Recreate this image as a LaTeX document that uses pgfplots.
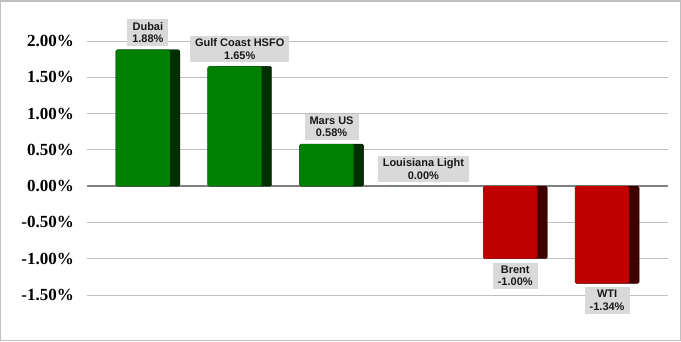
\documentclass[border=0pt]{standalone}
\usepackage{pgfplots}
\pgfplotsset{compat=1.18}
\usepackage{fontspec}
\setmainfont{Liberation Serif}
\newfontfamily\labfont{Liberation Sans}
\definecolor{gface}{HTML}{008000}
\definecolor{gside}{HTML}{002E00}
\definecolor{rface}{HTML}{C00000}
\definecolor{rside}{HTML}{400000}
\definecolor{gridc}{HTML}{BFBFBF}
\definecolor{zeroc}{HTML}{808080}
\definecolor{lblbg}{HTML}{D9D9D9}
\definecolor{borderc}{HTML}{BFBFBF}
\begin{document}
\begin{tikzpicture}
\begin{axis}[
  scale only axis, width=581pt, height=254pt,
  xmin=-0.663, xmax=5.663, ymin=-1.5, ymax=2.0,
  clip=false,
  axis line style={draw=none},
  xtick=\empty,
  ytick={-1.5,-1,-0.5,0,0.5,1,1.5,2},
  yticklabels={-1.50\%,-1.00\%,-0.50\%,0.00\%,0.50\%,1.00\%,1.50\%,2.00\%},
  ymajorgrids, grid style={gridc, line width=1pt},
  ytick style={draw=none},
  yticklabel style={font=\bfseries\fontsize{17}{20}\selectfont, inner sep=0pt, anchor=east, xshift=-13pt},
  every node near coord/.append style={font=\labfont\bfseries\fontsize{11}{12.5}\selectfont,
     align=center, fill=lblbg, text=black!90, inner xsep=5pt, inner ysep=3pt, outer sep=4pt, sharp corners},
]
\coordinate (O) at (rel axis cs:0,0);
\draw[zeroc, line width=1.5pt] (axis cs:-0.663,0) -- (axis cs:5.663,0);
% side (dark) bars
\addplot[ybar, bar width=64pt, bar shift=0pt, fill=gside, draw=gside!70!black, rounded corners=1.5pt]
  coordinates {(0,1.88) (1,1.65) (2,0.58)};
\addplot[ybar, bar width=64pt, bar shift=0pt, fill=rside, draw=rside!70!black, rounded corners=1.5pt]
  coordinates {(4,-1.00) (5,-1.34)};
% front faces with labels
\addplot[ybar, bar width=54pt, bar shift=-5pt, fill=gface, draw=none, rounded corners=1.5pt,
  point meta=explicit symbolic, nodes near coords,
  every node near coord/.append style={anchor=south}]
  coordinates {(0,1.88) [Dubai\\1.88\%] (1,1.65) [Gulf Coast HSFO\\1.65\%] (2,0.58) [Mars US\\0.58\%] (3,0.00) [Louisiana Light\\0.00\%]};
\addplot[ybar, bar width=54pt, bar shift=-5pt, fill=rface, draw=none, rounded corners=1.5pt,
  point meta=explicit symbolic, nodes near coords,
  every node near coord/.append style={anchor=north}]
  coordinates {(4,-1.00) [Brent\\-1.00\%] (5,-1.34) [WTI\\-1.34\%]};
\end{axis}
\draw[borderc, line width=1.5pt] ([shift={(-86.25pt,-45.25pt)}]O) rectangle ([shift={(593.25pt,294.25pt)}]O);
\end{tikzpicture}
\end{document}
